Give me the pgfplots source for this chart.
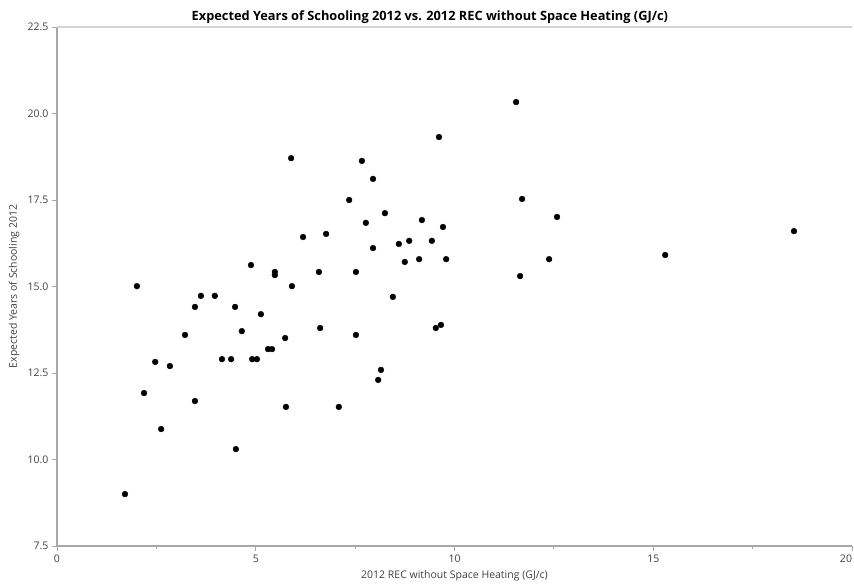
\documentclass[border=0pt]{standalone}
\usepackage{pgfplots}
\pgfplotsset{compat=1.18}
\usepackage{fontspec}
\setmainfont{Open Sans}
\definecolor{axgray}{HTML}{A8A8A8}
\definecolor{topgray}{HTML}{D4D4D4}
\definecolor{lblgray}{HTML}{404040}
\begin{document}
\begin{tikzpicture}[x=1pt,y=1pt]
\begin{axis}[
  at={(0,0)}, anchor=south west,
  scale only axis, width=795pt, height=519pt,
  xmin=0, xmax=20, ymin=7.5, ymax=22.5,
  axis lines=left,
  axis line style={draw=axgray, line width=1.3pt, -},
  xtick={0,5,10,15,20}, minor xtick={2.5,7.5,12.5,17.5},
  xticklabels={0,5,10,15,\hbox to 0pt{\hss 20}},
  ytick={7.5,10,12.5,15,17.5,20,22.5},
  tick style={draw=axgray, line width=0.9pt},
  tick align=outside,
  major tick length=5pt, minor tick length=3pt,
  /pgf/number format/assume math mode=true,
  yticklabel style={/pgf/number format/fixed, /pgf/number format/fixed zerofill, /pgf/number format/precision=1,
     font=\fontsize{10.5}{12}\selectfont, text=lblgray},
  xticklabel style={font=\fontsize{10.5}{12}\selectfont, text=lblgray},
  xlabel={2012 REC without Space Heating (GJ/c)},
  xlabel style={at={(axis description cs:0.5,0)}, anchor=north, yshift=-21pt, font=\fontsize{10.5}{12}\selectfont, text=lblgray},
  ylabel={Expected Years of Schooling 2012},
  ylabel style={at={(axis description cs:-0.0428,0.5)}, anchor=south, font=\fontsize{10.5}{12}\selectfont, text=lblgray},
  title={\bfseries Expected Years of Schooling 2012 vs. 2012 REC without Space Heating (GJ/c)},
  title style={at={(axis description cs:0.469,1)}, anchor=base, yshift=0pt, font=\fontsize{12.8}{15}\selectfont},
  clip=false,
]
\draw[topgray, line width=2pt] (axis cs:0,22.5) -- (axis cs:20,22.5);
\addplot[only marks, mark=*, mark size=2.9pt, black] coordinates {
(1.71,9.00) (2.01,15.01) (2.19,11.92) (2.47,12.82) (2.62,10.88) (2.84,12.70)
(3.22,13.60) (3.47,14.41) (3.47,11.69) (3.62,14.73) (3.97,14.73) (4.15,12.90)
(4.38,12.90) (4.48,14.41) (4.50,10.30) (4.65,13.71) (4.88,15.62) (4.91,12.90)
(5.03,12.90) (5.13,14.20) (5.31,13.19) (5.41,13.19) (5.48,15.42) (5.48,15.33)
(5.74,13.51) (5.76,11.52) (5.89,18.71) (5.91,15.01) (6.19,16.43) (6.59,15.42)
(6.62,13.80) (6.77,16.52) (7.09,11.52) (7.35,17.50) (7.52,15.42) (7.52,13.60)
(7.67,18.63) (7.77,16.84) (7.95,18.11) (7.95,16.11) (8.08,12.30) (8.15,12.59)
(8.25,17.12) (8.45,14.70) (8.60,16.23) (8.75,15.71) (8.86,16.32) (9.11,15.79)
(9.18,16.92) (9.43,16.32) (9.53,13.80) (9.61,19.32) (9.66,13.89) (9.71,16.72)
(9.79,15.79) (11.55,20.33) (11.65,15.30) (11.70,17.53) (12.38,15.79) (12.58,17.01)
(15.30,15.91) (18.54,16.60)
};
\end{axis}
\pgfresetboundingbox
\path[use as bounding box] (-57,-38) rectangle (797,546);
\end{tikzpicture}
\end{document}
